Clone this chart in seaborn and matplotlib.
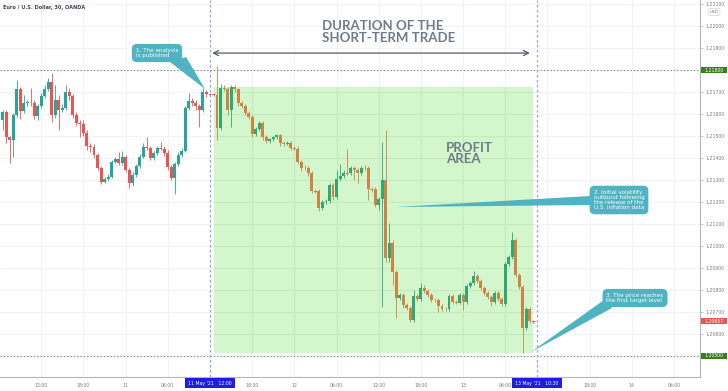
import numpy as np
import pandas as pd
import matplotlib
matplotlib.use("Agg")
import matplotlib.pyplot as plt
import seaborn as sns
from matplotlib.patches import Rectangle, Polygon
from matplotlib.transforms import blended_transform_factory

# ---------------- data (EUR/USD, 30-minute candles from 10 May 2021 06:30) ----------------
first_candle = "2021-05-10 06:30"

opens = [
    1.21573, 1.21609, 1.21495, 1.21482, 1.21595, 1.21714, 1.21614, 1.21650, 1.21652, 1.21648,
    1.21591, 1.21636, 1.21682, 1.21714, 1.21745, 1.21595, 1.21664, 1.21618, 1.21627, 1.21700,
    1.21682, 1.21595, 1.21559, 1.21555, 1.21514, 1.21455, 1.21452, 1.21414, 1.21355, 1.21291,
    1.21305, 1.21314, 1.21382, 1.21395, 1.21377, 1.21405, 1.21345, 1.21286,
    1.21323, 1.21364, 1.21405, 1.21450, 1.21445, 1.21400, 1.21423, 1.21445, 1.21443, 1.21423,
    1.21359, 1.21309, 1.21373, 1.21414, 1.21432, 1.21627, 1.21659, 1.21650, 1.21636, 1.21618,
    1.21700, 1.21691, 1.21689,
    1.21686, 1.21536, 1.21718, 1.21714, 1.21618, 1.21723, 1.21714, 1.21650, 1.21636, 1.21605,
    1.21586, 1.21509, 1.21532, 1.21559, 1.21495, 1.21477, 1.21486, 1.21495, 1.21505, 1.21468,
    1.21466, 1.21468, 1.21445, 1.21443, 1.21382, 1.21355, 1.21353, 1.21332, 1.21250, 1.21248,
    1.21173, 1.21200, 1.21205, 1.21277, 1.21223, 1.21305, 1.21318, 1.21332, 1.21330, 1.21355,
    1.21345, 1.21332, 1.21355, 1.21353, 1.21259, 1.21257, 1.21186, 1.21214, 1.21300, 1.20945,
    1.21014, 1.20882, 1.20764, 1.20777, 1.20732, 1.20718, 1.20664, 1.20773, 1.20759, 1.20809,
    1.20795, 1.20777, 1.20755, 1.20753, 1.20727, 1.20714, 1.20712, 1.20773, 1.20745, 1.20743,
    1.20777, 1.20745, 1.20818, 1.20832, 1.20864, 1.20841, 1.20809, 1.20786, 1.20768, 1.20745,
    1.20786, 1.20759, 1.20736, 1.20918, 1.20950, 1.21027, 1.20868, 1.20814, 1.20627, 1.20714,
    1.20659,
]
highs = [
    1.21618, 1.21618, 1.21500, 1.21605, 1.21755, 1.21723, 1.21686, 1.21664, 1.21718, 1.21664,
    1.21645, 1.21695, 1.21732, 1.21764, 1.21786, 1.21732, 1.21686, 1.21645, 1.21732, 1.21718,
    1.21691, 1.21609, 1.21573, 1.21573, 1.21527, 1.21468, 1.21464, 1.21423, 1.21364, 1.21314,
    1.21327, 1.21391, 1.21405, 1.21427, 1.21432, 1.21414, 1.21355, 1.21336,
    1.21373, 1.21418, 1.21468, 1.21495, 1.21455, 1.21432, 1.21455, 1.21473, 1.21455, 1.21436,
    1.21368, 1.21382, 1.21427, 1.21445, 1.21636, 1.21695, 1.21673, 1.21664, 1.21645, 1.21718,
    1.21709, 1.21695, 1.21695,
    1.21818, 1.21736, 1.21732, 1.21723, 1.21732, 1.21732, 1.21718, 1.21659, 1.21645, 1.21614,
    1.21595, 1.21541, 1.21568, 1.21568, 1.21505, 1.21491, 1.21500, 1.21509, 1.21509, 1.21477,
    1.21477, 1.21477, 1.21455, 1.21455, 1.21391, 1.21368, 1.21364, 1.21341, 1.21259, 1.21259,
    1.21209, 1.21214, 1.21286, 1.21286, 1.21345, 1.21373, 1.21345, 1.21441, 1.21364, 1.21364,
    1.21355, 1.21364, 1.21368, 1.21364, 1.21268, 1.21268, 1.21223, 1.21473, 1.21527, 1.21105,
    1.21027, 1.20891, 1.20786, 1.20786, 1.20741, 1.20727, 1.20800, 1.20782, 1.20832, 1.20823,
    1.20805, 1.20786, 1.20764, 1.20764, 1.20736, 1.20723, 1.20782, 1.20782, 1.20755, 1.20786,
    1.20786, 1.20827, 1.20841, 1.20886, 1.20873, 1.20850, 1.20818, 1.20795, 1.20777, 1.20795,
    1.20795, 1.20768, 1.20927, 1.20959, 1.21064, 1.21036, 1.20877, 1.20823, 1.20723, 1.20723,
    1.20664,
]
lows = [
    1.21527, 1.21468, 1.21377, 1.21405, 1.21586, 1.21577, 1.21605, 1.21636, 1.21636, 1.21577,
    1.21573, 1.21627, 1.21673, 1.21705, 1.21564, 1.21582, 1.21527, 1.21609, 1.21618, 1.21664,
    1.21582, 1.21545, 1.21495, 1.21500, 1.21436, 1.21427, 1.21400, 1.21345, 1.21282, 1.21286,
    1.21295, 1.21309, 1.21377, 1.21368, 1.21368, 1.21336, 1.21264, 1.21273,
    1.21314, 1.21355, 1.21400, 1.21436, 1.21391, 1.21391, 1.21414, 1.21436, 1.21409, 1.21345,
    1.21300, 1.21236, 1.21364, 1.21405, 1.21427, 1.21618, 1.21636, 1.21618, 1.21541, 1.21609,
    1.21677, 1.21682, 1.21680,
    1.21482, 1.21527, 1.21705, 1.21595, 1.21541, 1.21700, 1.21636, 1.21627, 1.21595, 1.21577,
    1.21495, 1.21500, 1.21523, 1.21482, 1.21468, 1.21468, 1.21477, 1.21486, 1.21455, 1.21455,
    1.21459, 1.21436, 1.21436, 1.21373, 1.21341, 1.21345, 1.21318, 1.21241, 1.21241, 1.21159,
    1.21164, 1.21191, 1.21195, 1.21209, 1.21214, 1.21295, 1.21309, 1.21323, 1.21323, 1.21300,
    1.21286, 1.21323, 1.21345, 1.21209, 1.21245, 1.21177, 1.21164, 1.20723, 1.20927, 1.20927,
    1.20823, 1.20673, 1.20755, 1.20718, 1.20709, 1.20655, 1.20655, 1.20750, 1.20750, 1.20786,
    1.20768, 1.20745, 1.20745, 1.20700, 1.20705, 1.20705, 1.20705, 1.20736, 1.20736, 1.20736,
    1.20709, 1.20736, 1.20809, 1.20823, 1.20832, 1.20800, 1.20777, 1.20759, 1.20727, 1.20736,
    1.20750, 1.20727, 1.20727, 1.20909, 1.20941, 1.20859, 1.20805, 1.20514, 1.20618, 1.20650,
    1.20650,
]
closes = [
    1.21609, 1.21495, 1.21482, 1.21595, 1.21714, 1.21614, 1.21650, 1.21652, 1.21648, 1.21591,
    1.21636, 1.21682, 1.21714, 1.21745, 1.21595, 1.21664, 1.21618, 1.21627, 1.21700, 1.21682,
    1.21595, 1.21559, 1.21555, 1.21514, 1.21455, 1.21452, 1.21414, 1.21355, 1.21291, 1.21305,
    1.21314, 1.21382, 1.21395, 1.21377, 1.21405, 1.21345, 1.21286, 1.21323,
    1.21364, 1.21405, 1.21450, 1.21445, 1.21400, 1.21423, 1.21445, 1.21443, 1.21423, 1.21359,
    1.21309, 1.21373, 1.21414, 1.21432, 1.21627, 1.21659, 1.21650, 1.21636, 1.21618, 1.21700,
    1.21691, 1.21689, 1.21686,
    1.21536, 1.21718, 1.21714, 1.21618, 1.21723, 1.21714, 1.21650, 1.21636, 1.21605, 1.21586,
    1.21509, 1.21532, 1.21559, 1.21495, 1.21477, 1.21486, 1.21495, 1.21505, 1.21468, 1.21466,
    1.21468, 1.21445, 1.21443, 1.21382, 1.21355, 1.21353, 1.21332, 1.21250, 1.21248, 1.21173,
    1.21200, 1.21205, 1.21277, 1.21223, 1.21305, 1.21318, 1.21332, 1.21330, 1.21355, 1.21345,
    1.21332, 1.21355, 1.21353, 1.21259, 1.21257, 1.21186, 1.21214, 1.21300, 1.20945, 1.21014,
    1.20882, 1.20764, 1.20777, 1.20732, 1.20718, 1.20664, 1.20773, 1.20759, 1.20809, 1.20795,
    1.20777, 1.20755, 1.20753, 1.20727, 1.20714, 1.20712, 1.20773, 1.20745, 1.20743, 1.20777,
    1.20745, 1.20818, 1.20832, 1.20864, 1.20841, 1.20809, 1.20786, 1.20768, 1.20745, 1.20786,
    1.20759, 1.20736, 1.20918, 1.20950, 1.21027, 1.20868, 1.20814, 1.20627, 1.20714, 1.20659,
    1.20657,
]

# x tick labels (hours since 10 May 00:00)
tick_hours = [12, 18, 24, 30, 36, 42, 48, 54, 60, 66, 72, 78, 84, 90, 96, 102]
tick_labels = ["12:00", "18:00", "11", "06:00", "", "18:00", "12", "06:00",
               "12:00", "18:00", "13", "06:00", "", "18:00", "14", "06:00"]
marker_hours = [36, 82.5]
marker_labels = ["11 May '21   12:00", "13 May '21   10:30"]

level_prices = [1.21800, 1.20500]
last_price = 1.20657

profit_box = dict(start=36.57, end=81.95, low=1.20515, high=1.21722)

# ---------------- styling ----------------
sns.set_theme(style="white")
plt.rcParams["font.family"] = ["DejaVu Sans"]

UP, DN = "#26A69A", "#EF5350"
UP_IN, DN_IN = "#2FA872", "#CC8448"
GRID = "#F0F3FA"
AXTXT = "#787B86"
TEAL = "#4FB3C2"
TITLEGREY = "#6F7B89"

day0 = pd.Timestamp("2021-05-10 00:00")
df = pd.DataFrame({
    "time": pd.date_range(first_candle, periods=len(closes), freq="30min"),
    "open": opens, "high": highs, "low": lows, "close": closes,
})
df["x"] = (df["time"] - day0) / pd.Timedelta(hours=1)
df["up"] = df["close"] >= df["open"]
inside = (df["x"] > profit_box["start"]) & (df["x"] < profit_box["end"])

fig = plt.figure(figsize=(7.28, 3.91), dpi=100)
ax = fig.add_axes([0, 14 / 391, 700 / 728, 377 / 391])
ax.set_facecolor("white")

ax.set_xlim(6.13, 105.7)
ax.set_ylim(1.204045, 1.221182)

# grid
yt = np.round(np.arange(1.205, 1.2215, 0.001), 3)
for v in yt:
    ax.axhline(v, color=GRID, lw=0.8, zorder=0)
for h in tick_hours:
    ax.axvline(h, color=GRID, lw=0.8, zorder=0)

# profit area (under candles)
ax.add_patch(Rectangle((profit_box["start"], profit_box["low"]),
                       profit_box["end"] - profit_box["start"],
                       profit_box["high"] - profit_box["low"],
                       facecolor="#D3F6CC", lw=0, zorder=1))
for v in yt:
    if profit_box["low"] < v < profit_box["high"]:
        ax.plot([profit_box["start"], profit_box["end"]], [v, v], color="#C4EBBE", lw=0.8, zorder=1.1)
for h in tick_hours:
    if profit_box["start"] < h < profit_box["end"]:
        ax.plot([h, h], [profit_box["low"], profit_box["high"]], color="#C4EBBE", lw=0.8, zorder=1.1)

# candles
cols = np.where(inside, np.where(df["up"], UP_IN, DN_IN), np.where(df["up"], UP, DN))
ax.vlines(df["x"], df["low"], df["high"], colors=cols, lw=0.6, zorder=2)
minh = 0.00003
body = (df["close"] - df["open"]).abs()
bottom = np.minimum(df["open"], df["close"]) - np.clip(minh - body, 0, None) / 2
ax.bar(df["x"], np.maximum(body, minh), bottom=bottom, width=0.42,
       color=cols, linewidth=0, zorder=2)

# level lines
for p in level_prices:
    ax.axhline(p, color="#7E8A80", lw=0.8, ls=(0, (1.2, 1.8)), zorder=4)
for h in marker_hours:
    ax.axvline(h, color="#9C9FE8", lw=0.9, ls=(0, (2, 2)), zorder=4)

# duration arrow
ax.annotate("", xy=(36.3, 1.21877), xytext=(81.5, 1.21877),
            arrowprops=dict(arrowstyle="<->", color="#555B66", lw=0.9,
                            mutation_scale=9, shrinkA=0, shrinkB=0), zorder=5)

ax.text(322 / 700, 1 - 20 / 377, "DURATION OF THE\nSHORT-TERM TRADE", transform=ax.transAxes,
        ha="left", va="top", fontsize=9.5, fontfamily="Lato", fontweight="bold",
        color=TITLEGREY, linespacing=0.95, zorder=6)
ax.text(446 / 700, 1 - 142 / 377, "PROFIT\nAREA", transform=ax.transAxes,
        ha="left", va="top", fontsize=9.5, fontfamily="Lato", fontweight="bold",
        color=TITLEGREY, linespacing=0.95, zorder=6)

# callouts
def callout(cx, cy, text, wedge):
    ax.add_patch(Polygon([(x / 700, 1 - y / 377) for x, y in wedge], closed=True,
                         transform=ax.transAxes, facecolor=TEAL, edgecolor="none", zorder=6))
    ax.text(cx / 700, 1 - cy / 377, text, transform=ax.transAxes, ha="center", va="center",
            multialignment="left", fontsize=4.1, color="white", linespacing=1.05, zorder=7,
            bbox=dict(boxstyle="round,pad=0.7,rounding_size=0.9", fc=TEAL, ec="none"))

callout(157, 53, "1. The analysis\nis published", [(170, 62), (186, 57), (205, 89)])
callout(619, 200, "2. Initial volatility\noutburst following\nthe release of the\nU.S. inflation data",
        [(590, 196), (590, 205), (396, 207)])
callout(635, 298, "3. The price reaches\nthe first target level",
        [(604, 300), (612, 308), (531, 352)])

# axes / ticks
ax.yaxis.tick_right()
ax.set_yticks(yt)
ax.set_yticklabels([f"{v:.5f}" for v in yt])
ax.set_xticks(tick_hours)
ax.set_xticklabels(tick_labels)
ax.tick_params(axis="both", labelsize=3.3, labelcolor=AXTXT, color="#B2B5BE",
               length=2, width=0.5, pad=2)
for s in ["top", "left"]:
    ax.spines[s].set_visible(False)
for s in ["right", "bottom"]:
    ax.spines[s].set_color("#B2B5BE")
    ax.spines[s].set_linewidth(0.8)

ytr = blended_transform_factory(ax.transAxes, ax.transData)
for p, c in [(level_prices[0], "#3B7D23"), (level_prices[1], "#3B7D23"), (last_price, "#EF5350")]:
    ax.add_patch(Rectangle((701 / 700, p - 0.000135), 26 / 700, 0.00027, transform=ytr,
                           facecolor=c, lw=0, clip_on=False, zorder=8))
    ax.text(714 / 700, p, f"{p:.5f}", transform=ytr, ha="center", va="center",
            fontsize=3.3, color="white", clip_on=False, zorder=9)

xtr = blended_transform_factory(ax.transData, ax.transAxes)
for h, lab in zip(marker_hours, marker_labels):
    ax.add_patch(Rectangle((h - 3.55, -11 / 377), 7.1, 10 / 377, transform=xtr,
                           facecolor="#1C1FE0", lw=0, clip_on=False, zorder=8))
    ax.text(h, -6 / 377, lab, transform=xtr, ha="center", va="center",
            fontsize=3.3, color="white", clip_on=False, zorder=9)

fig.text(3 / 728, 1 - 7 / 391, "Euro / U.S. Dollar, 30, OANDA", ha="left", va="center",
         fontsize=3.6, fontweight="bold", color="#434651")
fig.text(714 / 728, 1 - 12 / 391, "USD", ha="center", va="center", fontsize=3.2, color=AXTXT,
         bbox=dict(boxstyle="round,pad=0.3", fc="white", ec="#D1D4DC", lw=0.5), zorder=10)

fig.savefig("out.png", dpi=100, facecolor="white")
